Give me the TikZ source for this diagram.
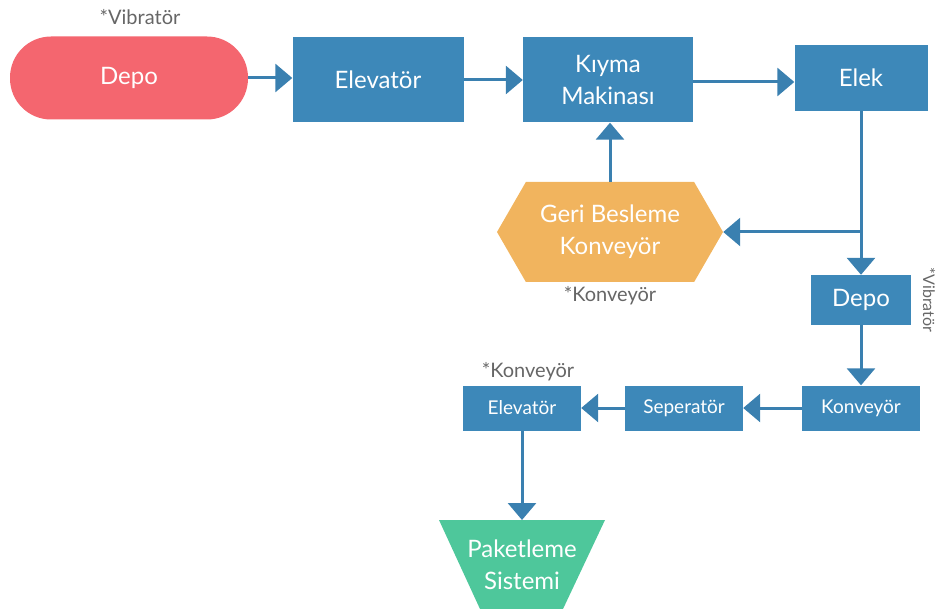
\documentclass[tikz,border=0pt]{standalone}
\usepackage{fontspec}
\setmainfont{Lato}
\usetikzlibrary{arrows.meta,shapes.geometric,shapes.symbols}

\definecolor{kirmizi}{HTML}{F4666F}
\definecolor{mavi}{HTML}{3D88B9}
\definecolor{okmavi}{HTML}{3A80B0}
\definecolor{turuncu}{HTML}{F1B45E}
\definecolor{yesil}{HTML}{4EC79B}
\definecolor{gri}{HTML}{666666}

\tikzset{
  kutu/.style={rectangle, fill=mavi, text=white, align=center,
    font=\fontsize{24}{32}\selectfont},
  kucukkutu/.style={kutu, minimum width=118pt, minimum height=45pt,
    font=\fontsize{19}{22}\selectfont},
  notyazi/.style={text=gri, font=\fontsize{20}{24}\selectfont},
  ok/.style={draw=okmavi, line width=3pt, -{Triangle[length=17pt,width=28pt]}}
}

\begin{document}
\begin{tikzpicture}[x=1pt,y=-1pt]
        \useasboundingbox (0,0) rectangle (939,609);%
        % ust sira
        \node[kutu, fill=kirmizi, rounded corners=41pt, minimum width=238pt, minimum height=83pt] (depo) at (129,78) {Depo};%
        \node[kutu, minimum width=171pt, minimum height=85pt] (elev) at (378,80) {Elevatör};%
        \node[kutu, minimum width=170pt, minimum height=85pt] (kiyma) at (608,80) {Kıyma\\Makinası};%
        \node[kutu, minimum width=133pt, minimum height=66pt] (elek) at (861,78) {Elek};%
        \node[notyazi] (vib1) at (140,17) {*Vibratör};%
        % geri besleme
        \node[kutu, shape=signal, signal to=east and west, signal pointer angle=120, fill=turuncu,
          minimum width=226pt, minimum height=100pt] (geri) at (610,232) {Geri Besleme\\Konveyör};%
        \node[notyazi] (konv1) at (610,296) {*Konveyör};%
        % sag taraf
        \node[kutu, minimum width=100pt, minimum height=50pt] (depo2) at (861,300) {Depo};%
        \node[notyazi, rotate=-90, font=\fontsize{16}{20}\selectfont] (vib2) at (929,300) {*Vibratör};%
        % alt sira
        \node[kucukkutu] (konv) at (861,408) {Konveyör};%
        \node[kucukkutu] (sep) at (684,408) {Seperatör};%
        \node[kucukkutu] (elev2) at (522,408) {Elevatör};%
        \node[notyazi] (konv2) at (528,372) {*Konveyör};%
        % paketleme (ters yamuk)
        \coordinate (paketust) at (522,520);%
        \fill[yesil] (439,520) -- (605,520) -- (563,609) -- (480,609) -- cycle;%
        \node[kutu, fill=none] (paket) at (522,565) {Paketleme\\Sistemi};%
        % oklar
        \draw[ok] (depo.east) -- (depo.east -| elev.west);%
        \draw[ok] (elev) -- (kiyma);%
        \draw[ok] ([yshift=-2pt]kiyma.east) -- ([yshift=-2pt]kiyma.east -| elek.west);%
        \draw[ok] (geri.north) -- (geri.north |- kiyma.south);%
        \draw[ok] (elek.south) -- (depo2.north);%
        \draw[ok] (elek.south |- geri.east) -- (geri.east);%
        \draw[ok] (depo2) -- (konv);%
        \draw[ok] (konv) -- (sep);%
        \draw[ok] (sep) -- (elev2);%
        \draw[ok] (elev2.south) -- (elev2.south |- paketust);%
      \end{tikzpicture}
\end{document}
